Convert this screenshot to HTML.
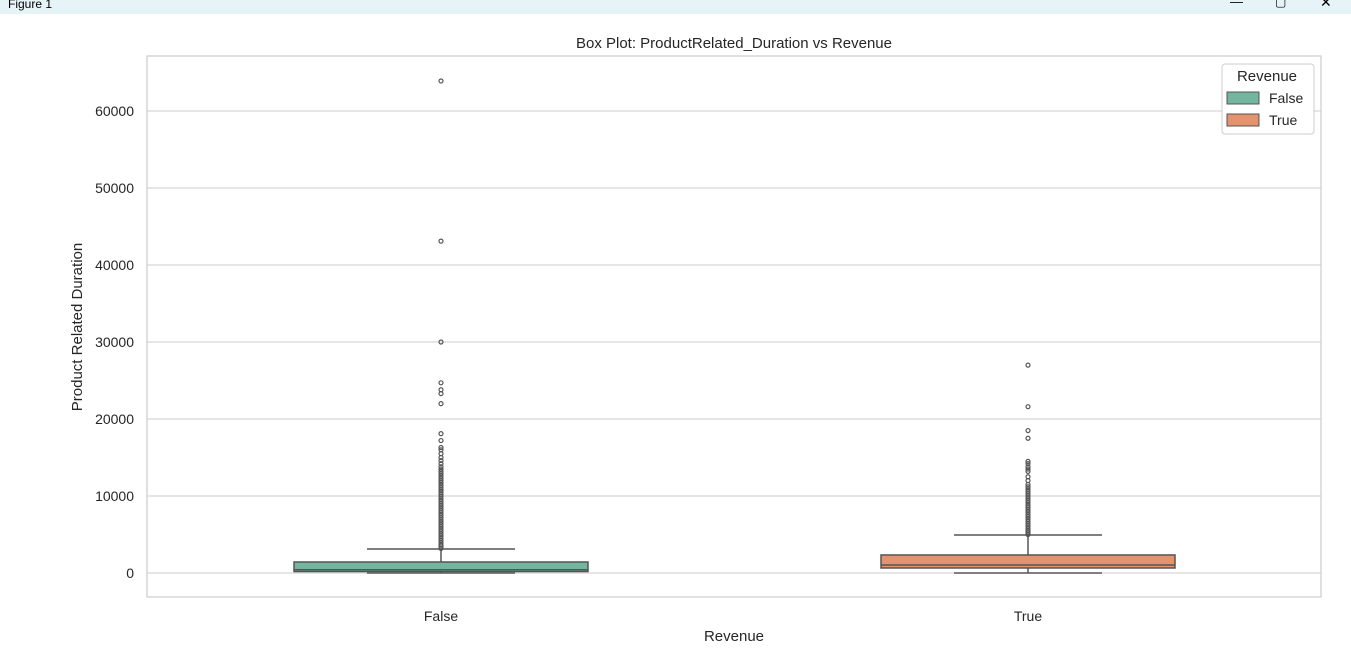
<!DOCTYPE html>
<html><head><meta charset="utf-8"><style>
body{margin:0;width:1351px;height:662px;background:#fff;overflow:hidden;font-family:"Liberation Sans",Arial,sans-serif}
#bar{position:absolute;left:0;top:0;width:1351px;height:14px;background:#e6f4f7}
</style></head><body>
<div id="bar"><span style="position:absolute;left:8px;top:-3px;font-size:12px;color:#000">Figure 1</span>
<span style="position:absolute;left:1230px;top:-6px;font-size:13px">—</span>
<span style="position:absolute;left:1275px;top:-5px;font-size:12px">▢</span>
<span style="position:absolute;left:1320px;top:-6px;font-size:14px">✕</span></div>
<svg id="c" width="1351" height="662" style="position:absolute;left:0;top:0"></svg>
<script>
const categories=["False","True"];
const colors=["#73b59e","#e5936f"];
const q1=[190,650];
const medians=[420,1040];
const q3=[1430,2340];
const whiskLow=[0,0];
const whiskHigh=[3120,4940];
const yTicks=[0,10000,20000,30000,40000,50000,60000];
const outliersFalse=[63900,43100,30000,24700,23800,23300,22000,18100,17200,16300,16000,15500,15000,14600,14200,13800,13500,13200,12900,12600,12300,12000,11700,11400,11100,10800,10500,10200,9900,9600,9300,9000,8700,8400,8100,7800,7500,7200,6900,6600,6300,6000,5700,5400,5100,4800,4500,4200,3900,3600,3400,3200];
const outliersTrue=[27000,21600,18500,17500,14500,14200,13800,13500,13200,12500,12000,11500,11200,10900,10600,10300,10000,9700,9400,9100,8800,8500,8200,7900,7600,7300,7000,6700,6400,6100,5800,5500,5300,5100,5000];
const outliers=[outliersFalse,outliersTrue];
const svg=document.getElementById('c');const NS='http://www.w3.org/2000/svg';
function mk(t,a,p){const e=document.createElementNS(NS,t);for(const k in a)e.setAttribute(k,a[k]);(p||svg).appendChild(e);return e;}
const L=147,R=1321,T=56,B=597;
const y=v=>573-v*(462/60000);
const xc=i=>441+i*587;
const halfW=147,capW=74;
mk('rect',{x:L,y:T,width:R-L,height:B-T,fill:'#fff',stroke:'#ccc','stroke-width':1.2});
yTicks.forEach(v=>{
const g=mk('line',{x1:L,x2:R,y1:y(v),y2:y(v),stroke:'#cccccc','stroke-width':1});


const t=mk('text',{x:134,y:y(v)+5,'text-anchor':'end','font-size':14,fill:'#262626'});t.textContent=v;


});
categories.forEach((c,i)=>{
const x=xc(i);
const t=mk('text',{x:x,y:621,'text-anchor':'middle','font-size':14,fill:'#262626'});t.textContent=c;


const g=mk('g',{});


const st={stroke:'#555','stroke-width':1.5};
mk('line',Object.assign({x1:x,x2:x,y1:y(q3[i]),y2:y(whiskHigh[i])},st),g);
mk('line',Object.assign({x1:x,x2:x,y1:y(q1[i]),y2:y(whiskLow[i])},st),g);
mk('line',Object.assign({x1:x-capW,x2:x+capW,y1:y(whiskHigh[i]),y2:y(whiskHigh[i])},st),g);
mk('line',Object.assign({x1:x-capW,x2:x+capW,y1:y(whiskLow[i]),y2:y(whiskLow[i])},st),g);
mk('rect',Object.assign({x:x-halfW,y:y(q3[i]),width:2*halfW,height:y(q1[i])-y(q3[i]),fill:colors[i]},st),g);
mk('line',Object.assign({x1:x-halfW,x2:x+halfW,y1:y(medians[i]),y2:y(medians[i])},st),g);
outliers[i].forEach(v=>{const p=mk('circle',{cx:x,cy:y(v),r:2,fill:'none',stroke:'#555','stroke-width':1.2},g);

});
});
let t=mk('text',{x:734,y:48,'text-anchor':'middle','font-size':15,fill:'#262626'});t.textContent='Box Plot: ProductRelated_Duration vs Revenue';

t=mk('text',{x:734,y:641,'text-anchor':'middle','font-size':15,fill:'#262626'});t.textContent='Revenue';

t=mk('text',{x:82,y:327,'text-anchor':'middle','font-size':15,fill:'#262626',transform:'rotate(-90 82 327)'});t.textContent='Product Related Duration';

const lg=mk('g',{});

mk('rect',{x:1222,y:64,width:92,height:70,rx:3,fill:'#fff',stroke:'#ccc'},lg);
t=mk('text',{x:1267,y:81,'text-anchor':'middle','font-size':15,fill:'#262626'},lg);t.textContent='Revenue';
categories.forEach((c,i)=>{
const r=mk('rect',{x:1227,y:92+i*22,width:32,height:12,fill:colors[i],stroke:'#555','stroke-width':1},lg);

const tt=mk('text',{x:1269,y:103+i*22,'font-size':14,fill:'#262626'},lg);tt.textContent=c;

});
</script>
</body></html>
